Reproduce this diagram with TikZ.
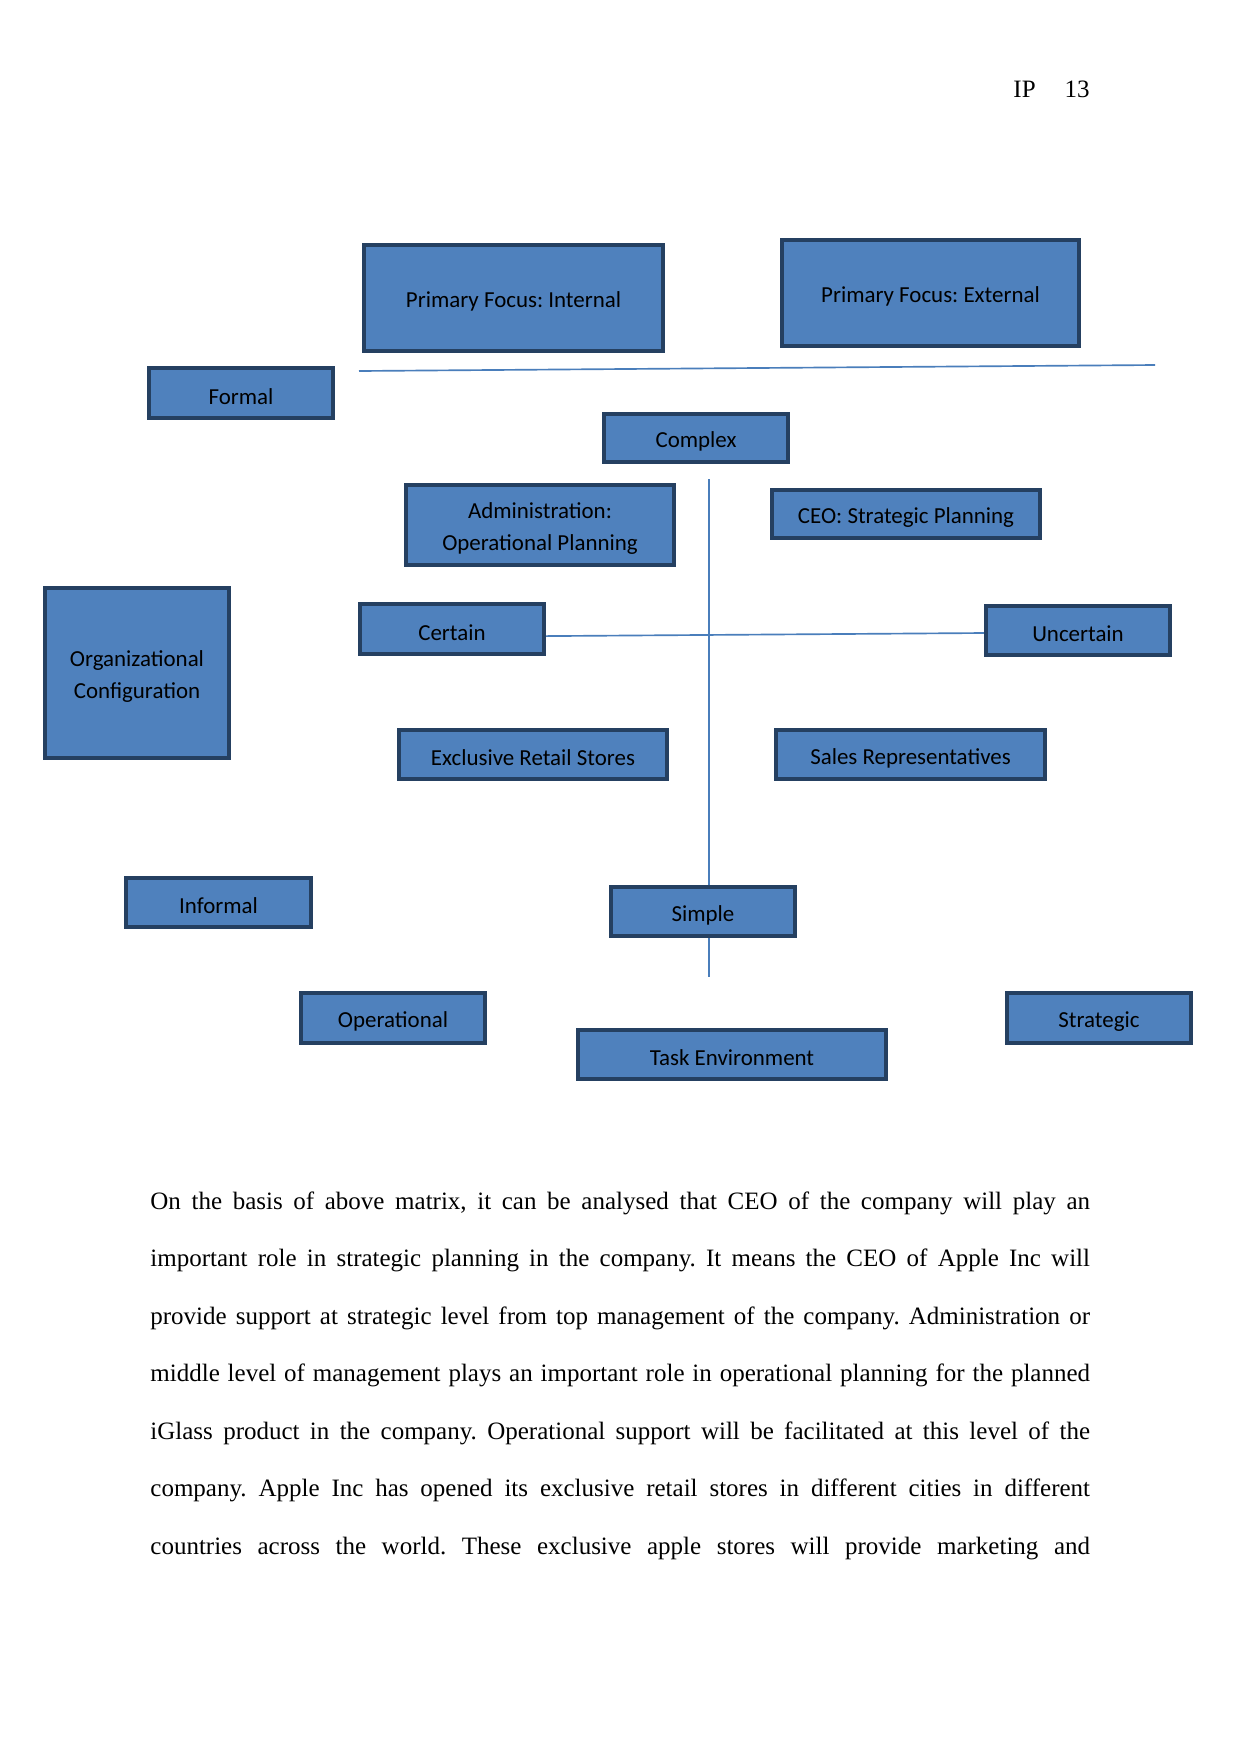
\documentclass[tikz,border=0pt]{standalone}
\usepackage{fontspec}
\setmainfont{Liberation Serif}
\newfontfamily\boxfont{Carlito}
\usetikzlibrary{backgrounds}
\definecolor{boxfill}{HTML}{4F81BD}
\definecolor{boxline}{HTML}{254061}
\definecolor{lineblue}{HTML}{4A7EBB}
\frenchspacing
\begin{document}
\begin{tikzpicture}[x=0.48pt,y=-0.48pt,
  boxtext/.style={inner sep=0pt, yshift=-1.7pt, align=center,
    font=\boxfont\fontsize{11}{15}\selectfont, text=black},
  bx/.style n args={3}{draw=boxline, fill=boxfill, line width=2pt,
    minimum width=#1*0.48pt-2pt, minimum height=#2*0.48pt-2pt, inner sep=0pt,
    label={[boxtext]center:#3}},
  ln/.style={draw=lineblue, line width=0.8pt}]
\useasboundingbox (0,0) rectangle (1241,1754);

% header
\node[anchor=base west, inner sep=0pt, font=\fontsize{12}{14}\selectfont] (ip) at (1013,97) {IP};
\node[anchor=base east, inner sep=0pt, font=\fontsize{12}{14}\selectfont] (pg) at (1090,97) {13};

% boxes
\node[bx={303}{110}{Primary Focus: Internal}] (pfi) at (513.5,298) {};
\node[bx={301}{110}{Primary Focus: External}] (pfe) at (930.5,293) {};
\node[bx={188}{54}{Formal}] (formal) at (241,393) {};
\node[bx={188}{52}{Complex}] (complex) at (696,438) {};
\node[bx={272}{84}{Administration:\\Operational Planning}] (admin) at (540,525) {};
\node[bx={272}{52}{CEO: Strategic Planning}] (ceo) at (906,514) {};
\node[bx={188}{174}{Organizational\\Configuration}] (org) at (137,673) {};
\node[bx={188}{54}{Certain}] (certain) at (452,629) {};
\node[bx={188}{53}{Uncertain}] (uncertain) at (1078,630.5) {};
\node[bx={272}{53}{Exclusive Retail Stores}] (excl) at (533,754.5) {};
\node[bx={273}{53}{Sales Representatives}] (sales) at (910.5,754.5) {};
\node[bx={189}{53}{Informal}] (informal) at (218.5,902.5) {};
\node[bx={188}{53}{Simple}] (simple) at (703,911.5) {};
\node[bx={188}{54}{Operational}] (oper) at (393,1018) {};
\node[bx={312}{53}{Task Environment}] (task) at (732,1054.5) {};
\node[bx={188}{54}{Strategic}] (strat) at (1099,1018) {};

% lines
\coordinate (hl) at (359,371);
\coordinate (hr) at (1155,365);
\coordinate (vt) at (709,479);
\coordinate (vb) at (709,977);
\begin{scope}[on background layer]
\fill[white] (0,0) rectangle (1241,1754);
\draw[ln] (hl) -- (hr);
\draw[ln] (vt) -- (vb);
\draw[ln] ([yshift=-3.4pt]certain.east) -- ([yshift=-1.2pt]uncertain.west);
\end{scope}

% body text
\node[anchor=base west, inner sep=0pt, text width=451pt, align=justify,
  font=\fontsize{12}{27.6}\selectfont] (body) at (150,1209)
{\parfillskip=0pt \hyphenpenalty=10000
On the basis of above matrix, it can be analysed that CEO of the company will play an\linebreak
important role in strategic planning in the company. It means the CEO of Apple Inc will\linebreak
provide support at strategic level from top management of the company. Administration or\linebreak
middle level of management plays an important role in operational planning for the planned\linebreak
iGlass product in the company. Operational support will be facilitated at this level of the\linebreak
company. Apple Inc has opened its exclusive retail stores in different cities in different\linebreak
countries across the world. These exclusive apple stores will provide marketing and\par};
\end{tikzpicture}
\end{document}
